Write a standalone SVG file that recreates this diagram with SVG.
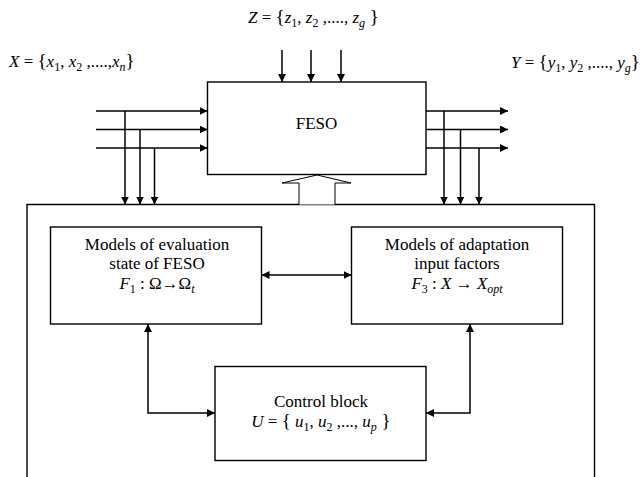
<svg xmlns="http://www.w3.org/2000/svg" width="643" height="477" viewBox="0 0 643 477">
<defs>
<style>
.box{fill:#fff;stroke:#000;stroke-width:1.4}
.ln{fill:none;stroke:#000;stroke-width:1.5}
.t{font-family:"Liberation Serif","Times New Roman",serif;font-size:17px;fill:#000;text-anchor:middle}
.m{font-family:"Liberation Serif","Times New Roman",serif;font-size:17px;font-style:italic;fill:#000}
.r{font-style:normal}
.br{font-style:normal;font-size:19px}
.sub{font-size:12px;font-style:normal}
.subi{font-size:12px}
</style>
<marker id="ah" viewBox="0 0 10 10" refX="10" refY="5" markerWidth="8" markerHeight="8" markerUnits="userSpaceOnUse" orient="auto-start-reverse">
<path d="M0,0 L10,5 L0,10 Z" fill="#000"/>
</marker>
</defs>
<rect width="643" height="477" fill="#fff"/>

<g id="outer">
<path class="box" d="M27,480 V204.5 H594.5 V480" />
</g>

<g id="feso">
<rect class="box" x="207.5" y="82" width="218.5" height="92.5"/>
<text class="t" x="316.5" y="129">FESO</text>
</g>

<g id="eval">
<rect class="box" x="50.5" y="227" width="211" height="97"/>
<text class="t" x="157" y="250">Models of evaluation</text>
<text class="t" x="157" y="268.5">state of FESO</text>
<text class="m" x="157" y="288.5" text-anchor="middle">F<tspan class="sub" dy="4">1</tspan><tspan class="r" dy="-4"> : Ω→Ω</tspan><tspan class="subi" dy="4">t</tspan></text>
</g>

<g id="adapt">
<rect class="box" x="351.5" y="227" width="211" height="97"/>
<text class="t" x="457" y="250">Models of adaptation</text>
<text class="t" x="457" y="268.5">input factors</text>
<text class="m" x="457" y="288.5" text-anchor="middle">F<tspan class="sub" dy="4">3</tspan><tspan dy="-4"> <tspan class="r">:</tspan> X <tspan class="r">→</tspan> X</tspan><tspan class="subi" dy="4">opt</tspan></text>
</g>

<g id="control">
<rect class="box" x="215" y="366.5" width="211" height="94"/>
<text class="t" x="321" y="406.5">Control block</text>
<text class="m" x="321" y="427" text-anchor="middle">U <tspan class="r">= </tspan><tspan class="br">{</tspan> u<tspan class="sub" dy="4">1</tspan><tspan dy="-4" class="r">, </tspan>u<tspan class="sub" dy="4">2</tspan><tspan dy="-4" class="r"> ,..., </tspan>u<tspan class="subi" dy="4">p</tspan><tspan dy="-4" class="br"> }</tspan></text>
</g>

<g id="labels">
<text class="m" x="9" y="67">X <tspan class="r">= </tspan><tspan class="br">{</tspan>x<tspan class="sub" dy="4">1</tspan><tspan dy="-4" class="r">, </tspan>x<tspan class="sub" dy="4">2</tspan><tspan dy="-4" class="r"> ,....,</tspan>x<tspan class="subi" dy="4">n</tspan><tspan dy="-4" class="br">}</tspan></text>
<text class="m" x="248" y="23">Z <tspan class="r">= </tspan><tspan class="br">{</tspan>z<tspan class="sub" dy="4">1</tspan><tspan dy="-4" class="r">, </tspan>z<tspan class="sub" dy="4">2</tspan><tspan dy="-4" class="r"> ,...., </tspan>z<tspan class="subi" dy="4">g</tspan><tspan dy="-4" class="br"> }</tspan></text>
<text class="m" x="511" y="68">Y <tspan class="r">= </tspan><tspan class="br">{</tspan>y<tspan class="sub" dy="4">1</tspan><tspan dy="-4" class="r">, </tspan>y<tspan class="sub" dy="4">2</tspan><tspan dy="-4" class="r"> ,...., </tspan>y<tspan class="subi" dy="4">g</tspan><tspan dy="-4" class="br">}</tspan></text>
</g>

<g id="connectors">
<path class="ln" d="M282,50 V82" marker-end="url(#ah)"/>
<path class="ln" d="M311,50 V82" marker-end="url(#ah)"/>
<path class="ln" d="M341,50 V82" marker-end="url(#ah)"/>

<path class="ln" d="M96,111 H207.5" marker-end="url(#ah)"/>
<path class="ln" d="M96,129.5 H207.5" marker-end="url(#ah)"/>
<path class="ln" d="M96,148 H207.5" marker-end="url(#ah)"/>
<path class="ln" d="M125,111 V204.5" marker-end="url(#ah)"/>
<path class="ln" d="M140,129.5 V204.5" marker-end="url(#ah)"/>
<path class="ln" d="M154.5,148 V204.5" marker-end="url(#ah)"/>

<path class="ln" d="M426,111 H508" marker-end="url(#ah)"/>
<path class="ln" d="M426,129.5 H508" marker-end="url(#ah)"/>
<path class="ln" d="M426,148 H508" marker-end="url(#ah)"/>
<path class="ln" d="M444,111 V204.5" marker-end="url(#ah)"/>
<path class="ln" d="M460.5,129.5 V204.5" marker-end="url(#ah)"/>
<path class="ln" d="M479,148 V204.5" marker-end="url(#ah)"/>

<polyline fill="#fff" stroke="#000" stroke-width="1" points="299,204.5 299,183 282,183 317,175 351,183 335,183 335,204.5"/>

<path class="ln" d="M261.5,275 H351.5" marker-start="url(#ah)" marker-end="url(#ah)"/>
<path class="ln" d="M148,324 V413 H215" marker-start="url(#ah)" marker-end="url(#ah)"/>
<path class="ln" d="M470,324 V413 H426" marker-start="url(#ah)" marker-end="url(#ah)"/>
</g>
</svg>
